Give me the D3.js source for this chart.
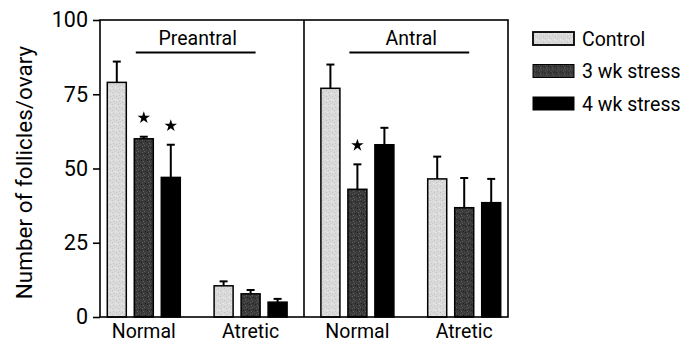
<!DOCTYPE html>
<html>
<head>
<meta charset="utf-8">
<script src="https://cdn.jsdelivr.net/npm/d3@7"></script>
<style>
  body { margin: 0; background: #fff; }
  text { font-family: Roboto, "DejaVu Sans", sans-serif; fill: #000; }
</style>
</head>
<body>
<div id="chart"></div>
<script>
// Data
const groupKeys = ["pre-normal", "pre-atretic", "ant-normal", "ant-atretic"];
const groupLabels = ["Normal", "Atretic", "Normal", "Atretic"];
const panels = ["Preantral", "Antral"];
const seriesNames = ["Control", "3 wk stress", "4 wk stress"];

const control = [79, 10.5, 77, 46.5];
const controlErr = [7, 1.5, 8, 7.5];
const stress3 = [60, 7.8, 43, 36.8];
const stress3Err = [0.7, 1.3, 8.4, 10];
const stress4 = [47, 5, 58, 38.5];
const stress4Err = [11, 1.1, 5.7, 8];
// significance stars (true = star over bar)
const stars3 = [true, false, true, false];
const stars4 = [true, false, false, false];

const yTicks = [0, 25, 50, 75, 100];

const W = 685, H = 343;
const margin = {top: 20, right: 177, bottom: 26, left: 100};
const plotW = W - margin.left - margin.right,
      plotH = H - margin.top - margin.bottom;

const svg = d3.select("#chart").append("svg")
  .attr("width", W)
  .attr("height", H);

// fill textures
const defs = svg.append("defs");
function stipple(id, base, dots) {
  const p = defs.append("pattern")
    .attr("id", id)
    .attr("patternUnits", "userSpaceOnUse")
    .attr("width", 6).attr("height", 6);
  p.append("rect").attr("width", 6).attr("height", 6).attr("fill", base);
  dots.forEach(d => p.append("rect")
    .attr("x", d[0]).attr("y", d[1]).attr("width", 1).attr("height", 1)
    .attr("fill", d[2]));
}
stipple("texLight", "#dadada", [[0,0,"#c4c4c4"],[3,1,"#ececec"],[1,3,"#c8c8c8"],[4,4,"#bdbdbd"],[5,2,"#e8e8e8"],[2,5,"#cfcfcf"]]);
stipple("texDark", "#3a3a3a", [[0,0,"#5a5a5a"],[3,1,"#222"],[1,3,"#666"],[4,4,"#4c4c4c"],[5,2,"#1e1e1e"],[2,5,"#606060"]]);
const fills = ["url(#texLight)", "url(#texDark)", "#000"];

const g = svg.append("g")
  .attr("transform", `translate(${margin.left},${margin.top})`);

const y = d3.scaleLinear().domain([0, 100]).range([plotH, 0]);

const x = d3.scalePoint()
  .domain(groupKeys)
  .range([0, plotW])
  .padding(0.41);

const xSub = d3.scaleBand()
  .domain(seriesNames)
  .range([-36.5, 36.5])
  .paddingInner(0.296);

const panelX = d3.scaleBand().domain(panels).range([0, plotW]);

const series = [
  {name: seriesNames[0], values: control, errs: controlErr, stars: null},
  {name: seriesNames[1], values: stress3, errs: stress3Err, stars: stars3},
  {name: seriesNames[2], values: stress4, errs: stress4Err, stars: stars4}
];

// bars + error bars
series.forEach((s, si) => {
  const sg = g.append("g");
  const bx = i => x(groupKeys[i]) + xSub(s.name);
  const bw = xSub.bandwidth();

  sg.selectAll("line.err")
    .data(s.values)
    .join("line")
    .attr("x1", (d, i) => bx(i) + bw / 2)
    .attr("x2", (d, i) => bx(i) + bw / 2)
    .attr("y1", d => y(d))
    .attr("y2", (d, i) => y(d + s.errs[i]))
    .attr("stroke", "#000").attr("stroke-width", 2);

  sg.selectAll("line.cap")
    .data(s.values)
    .join("line")
    .attr("x1", (d, i) => bx(i) + bw / 2 - 4)
    .attr("x2", (d, i) => bx(i) + bw / 2 + 4)
    .attr("y1", (d, i) => y(d + s.errs[i]))
    .attr("y2", (d, i) => y(d + s.errs[i]))
    .attr("stroke", "#000").attr("stroke-width", 2);

  sg.selectAll("rect")
    .data(s.values)
    .join("rect")
    .attr("x", (d, i) => bx(i))
    .attr("y", d => y(d))
    .attr("width", bw)
    .attr("height", d => y(0) - y(d))
    .attr("fill", fills[si])
    .attr("stroke", "#000")
    .attr("stroke-width", 1.5);

  if (s.stars) {
    sg.selectAll("path.star")
      .data(s.values.map((v, i) => ({v, i})).filter(d => s.stars[d.i]))
      .join("path")
      .attr("d", d3.symbol(d3.symbolStar, 48))
      .attr("transform", d =>
        `translate(${bx(d.i) + bw / 2},${y(d.v + s.errs[d.i]) - 19})`)
      .attr("fill", "#000");
  }
});

// frame
g.append("rect")
  .attr("width", plotW).attr("height", plotH)
  .attr("fill", "none").attr("stroke", "#000").attr("stroke-width", 1.6);
g.append("line")
  .attr("x1", panelX("Antral")).attr("x2", panelX("Antral"))
  .attr("y1", 0).attr("y2", plotH)
  .attr("stroke", "#000").attr("stroke-width", 1.6);

// y axis
const yAxis = g.append("g")
  .call(d3.axisLeft(y).tickValues(yTicks).tickSize(7).tickPadding(5));
yAxis.select(".domain").remove();
yAxis.selectAll(".tick line").attr("stroke-width", 1.6);
yAxis.selectAll(".tick text")
  .attr("font-size", 21.5)
  .attr("font-family", "Roboto, sans-serif");

// x labels
g.selectAll("text.xl")
  .data(groupKeys)
  .join("text")
  .attr("x", d => x(d))
  .attr("y", plotH + 21)
  .attr("text-anchor", "middle")
  .attr("font-size", 19.5)
  .text((d, i) => groupLabels[i]);

// panel headings with bars
panels.forEach((p, pi) => {
  const left = x(groupKeys[pi * 2]) - 8;
  const right = x(groupKeys[pi * 2 + 1]) + 5;
  g.append("line")
    .attr("x1", left).attr("x2", right)
    .attr("y1", 32.5).attr("y2", 32.5)
    .attr("stroke", "#000").attr("stroke-width", 2);
  g.append("text")
    .attr("x", (left + right) / 2 + 2)
    .attr("y", 25)
    .attr("text-anchor", "middle")
    .attr("font-size", 19.5)
    .text(p);
});

// y label
svg.append("text")
  .attr("transform", `translate(32,${margin.top + plotH / 2 + 4}) rotate(-90)`)
  .attr("text-anchor", "middle")
  .attr("font-size", 22.5)
  .text("Number of follicles/ovary");

// legend
const legend = svg.append("g").attr("transform", "translate(533,32)");
seriesNames.forEach((n, i) => {
  const row = legend.append("g").attr("transform", `translate(0,${i * 32.5})`);
  row.append("rect")
    .attr("width", 41).attr("height", 13)
    .attr("fill", fills[i])
    .attr("stroke", "#000").attr("stroke-width", i === 0 ? 1.8 : 1);
  row.append("text")
    .attr("x", 49).attr("y", 13.5)
    .attr("font-size", 19.5)
    .text(n);
});
</script>
</body>
</html>
